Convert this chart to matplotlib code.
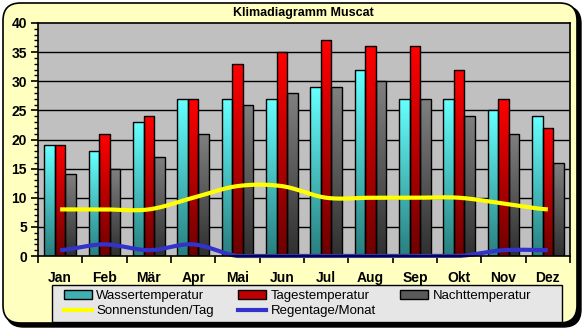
import numpy as np
import matplotlib
matplotlib.use("Agg")
import matplotlib.pyplot as plt
from matplotlib.patches import FancyBboxPatch, Rectangle, Patch
from matplotlib.lines import Line2D
from matplotlib.colors import LinearSegmentedColormap

months = ["Jan", "Feb", "Mär", "Apr", "Mai", "Jun", "Jul", "Aug", "Sep", "Okt", "Nov", "Dez"]
wasser = [19, 18, 23, 27, 27, 27, 29, 32, 27, 27, 25, 24]
tages = [19, 21, 24, 27, 33, 35, 37, 36, 36, 32, 27, 22]
nacht = [14, 15, 17, 21, 26, 28, 29, 30, 27, 24, 21, 16]
sonne = [8, 8, 8, 10, 12, 12, 10, 10, 10, 10, 9, 8]
regen = [1, 2, 1, 2, 0, 0, 0, 0, 0, 0, 1, 1]
labels = ["Wassertemperatur", "Tagestemperatur", "Nachttemperatur",
          "Sonnenstunden/Tag", "Regentage/Monat"]

plt.rcParams['font.family'] = ['Liberation Sans', 'DejaVu Sans']

W, H = 583, 329
fig = plt.figure(figsize=(W / 100, H / 100), dpi=100)
fig.patch.set_facecolor("white")

# background frame with shadow
shadow = FancyBboxPatch((6 / W, 2 / H), 575 / W, 321 / H,
                        boxstyle="round,pad=0,rounding_size=0.03",
                        transform=fig.transFigure, facecolor="black",
                        edgecolor="black", zorder=-2, mutation_aspect=W / H)
fig.patches.append(shadow)
bg = FancyBboxPatch((3 / W, 6 / H), 574 / W, 320 / H,
                    boxstyle="round,pad=0,rounding_size=0.03",
                    transform=fig.transFigure, facecolor="#FFFFC0",
                    edgecolor="black", linewidth=1.2, zorder=-1, mutation_aspect=W / H)
fig.patches.append(bg)

ax = fig.add_axes([38 / W, (H - 256) / H, (570 - 38) / W, (256 - 23) / H])
ax.set_facecolor("#C0C0C0")
ax.set_xlim(-0.5, 11.5)
ax.set_ylim(0, 40)

for y in range(5, 40, 5):
    ax.axhline(y, color="black", lw=1.0, zorder=1)

series = [
    (wasser, "#66FFFF", "#2A7F7F"),
    (tages, "#FF0000", "#6E0000"),
    (nacht, "#808080", "#303030"),
]
bw = 0.24
x = np.arange(len(months))
for k, (vals, top, bot) in enumerate(series):
    cmap = LinearSegmentedColormap.from_list("g%d" % k, [bot, top])
    grad = np.linspace(0, 1, 64).reshape(-1, 1)
    for i, v in enumerate(vals):
        x0 = x[i] + (k - 1) * bw - bw / 2
        im = ax.imshow(grad, cmap=cmap, origin="lower", aspect="auto",
                       extent=[x0, x0 + bw, 0, v], zorder=2, interpolation="bilinear")
        r = Rectangle((x0, 0), bw, v, facecolor="none", edgecolor="black", lw=1.0, zorder=3)
        ax.add_patch(r)
        im.set_clip_path(r)


def smooth(xs, ys, n=30):
    xs = np.asarray(xs, float)
    ys = np.asarray(ys, float)
    px = np.concatenate([[2 * xs[0] - xs[1]], xs, [2 * xs[-1] - xs[-2]]])
    py = np.concatenate([[ys[0]], ys, [ys[-1]]])
    outx, outy = [], []
    t = np.linspace(0, 1, n)
    for i in range(1, len(px) - 2):
        p0, p1, p2, p3 = py[i - 1], py[i], py[i + 1], py[i + 2]
        m1 = (p2 - p0) / 2
        m2 = (p3 - p1) / 2
        h00 = 2 * t**3 - 3 * t**2 + 1
        h10 = t**3 - 2 * t**2 + t
        h01 = -2 * t**3 + 3 * t**2
        h11 = t**3 - t**2
        outy.append(h00 * p1 + h10 * m1 + h01 * p2 + h11 * m2)
        outx.append(px[i] + t * (px[i + 1] - px[i]))
    return np.concatenate(outx), np.concatenate(outy)

sx, sy = smooth(x, sonne)
ax.plot(sx, sy, color="#FFFF00", lw=3, zorder=4, solid_capstyle="butt")
rx, ry = smooth(x, regen)
ry = np.maximum(ry, 0)
ax.plot(rx, ry, color="#3333CC", lw=3, zorder=4, clip_on=False, solid_capstyle="butt")

for s in ax.spines.values():
    s.set_color("black")
    s.set_linewidth(1.2)
    s.set_zorder(5)

ax.set_yticks(range(0, 41, 5))
ax.set_yticks(range(0, 41, 1), minor=True)
ax.set_xticks(x)
ax.set_xticklabels(months)
ax.set_xticks(np.arange(-0.5, 12, 1), minor=True)
ax.tick_params(axis="x", which="major", length=0, pad=11)
ax.tick_params(axis="x", which="minor", length=5, width=1.2, direction="out")
ax.tick_params(axis="y", which="major", length=5, width=1.2, direction="out", pad=3)
ax.tick_params(axis="y", which="minor", length=3, width=1.0, direction="out")
for lab in ax.get_xticklabels() + ax.get_yticklabels():
    lab.set_fontweight("bold")
    lab.set_fontsize(10)

fig.text(303 / W, 1 - 13 / H, "Klimadiagramm Muscat", ha="center", va="center",
         fontsize=9, fontweight="bold")

# legend box
legbox = Rectangle((52 / W, 1 - 322 / H), (562 - 52) / W, 37 / H,
                   transform=fig.transFigure, facecolor="#E6E6E6",
                   edgecolor="black", lw=1.0, zorder=1)
fig.patches.append(legbox)

handles = [
    Patch(facecolor="#3FAFAF", edgecolor="black"),
    Patch(facecolor="#C00000", edgecolor="black"),
    Patch(facecolor="#5A5A5A", edgecolor="black"),
    Line2D([], [], color="#FFFF00", lw=3),
    Line2D([], [], color="#3333CC", lw=3),
]
order = [0, 3, 1, 4, 2]
leg = fig.legend([handles[i] for i in order], [labels[i] for i in order],
                 ncol=3, loc="center left",
                 bbox_to_anchor=(64 / W, 1 - 303.5 / H),
                 bbox_transform=fig.transFigure,
                 fontsize=9.5, frameon=False, borderpad=0,
                 handlelength=2.1, handleheight=0.7, handletextpad=0.35,
                 labelspacing=0.25, borderaxespad=0, columnspacing=1.85)

fig.savefig("out.png", dpi=100)
